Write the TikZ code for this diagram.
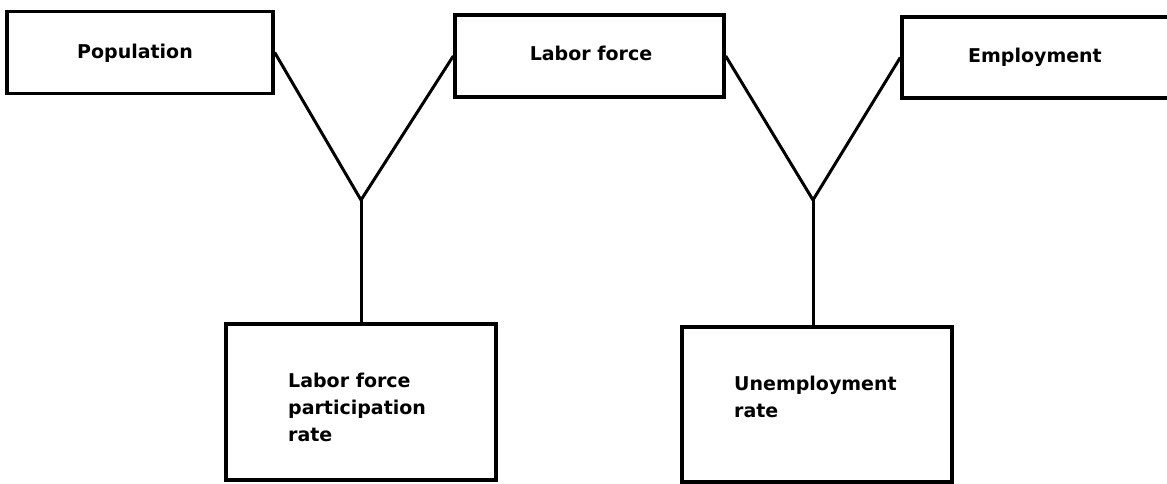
\documentclass[tikz,border=0pt]{standalone}
\usepackage{fontspec}
\setmainfont{DejaVu Sans}
\begin{document}
\begin{tikzpicture}[x=1pt,y=-1pt,
  box/.style={draw,line width=3.4pt,rectangle,inner sep=0pt},
  lbl/.style={font=\bfseries\fontsize{19}{27}\selectfont,inner sep=0pt},
  conn/.style={line width=3pt}]
\useasboundingbox (0,0) rectangle (1167,483);
\node[box,minimum width=266pt,minimum height=82pt] (pop) at (140,52.5) {};
\node[box,minimum width=269pt,minimum height=82pt] (lab) at (589.5,56) {};
\node[box,minimum width=290pt,minimum height=81pt] (emp) at (1047,57.5) {};
\node[box,minimum width=270pt,minimum height=156pt] (lfpr) at (361,402) {};
\node[box,minimum width=270pt,minimum height=155pt] (unemp) at (817,404.5) {};
\node[lbl] (tpop) at (135,53) {Population};
\node[lbl] (tlab) at (591,53) {Labor force};
\node[lbl] (temp) at (1035,57) {Employment};
\node[lbl,align=left,anchor=west] (tlfpr) at (288,407) {Labor force\\participation\\rate};
\node[lbl,align=left,anchor=west] (tunemp) at (734,396.5) {Unemployment\\rate};
\coordinate (j1) at (361,200);
\coordinate (j2) at (813,200);
\draw[conn] (pop.east) -- (j1) -- (lab.west);
\draw[conn] (j1) -- (lfpr.north -| j1);
\draw[conn] (lab.east) -- (j2) -- (emp.west);
\draw[conn] (j2) -- (unemp.north -| j2);
\end{tikzpicture}
\end{document}
